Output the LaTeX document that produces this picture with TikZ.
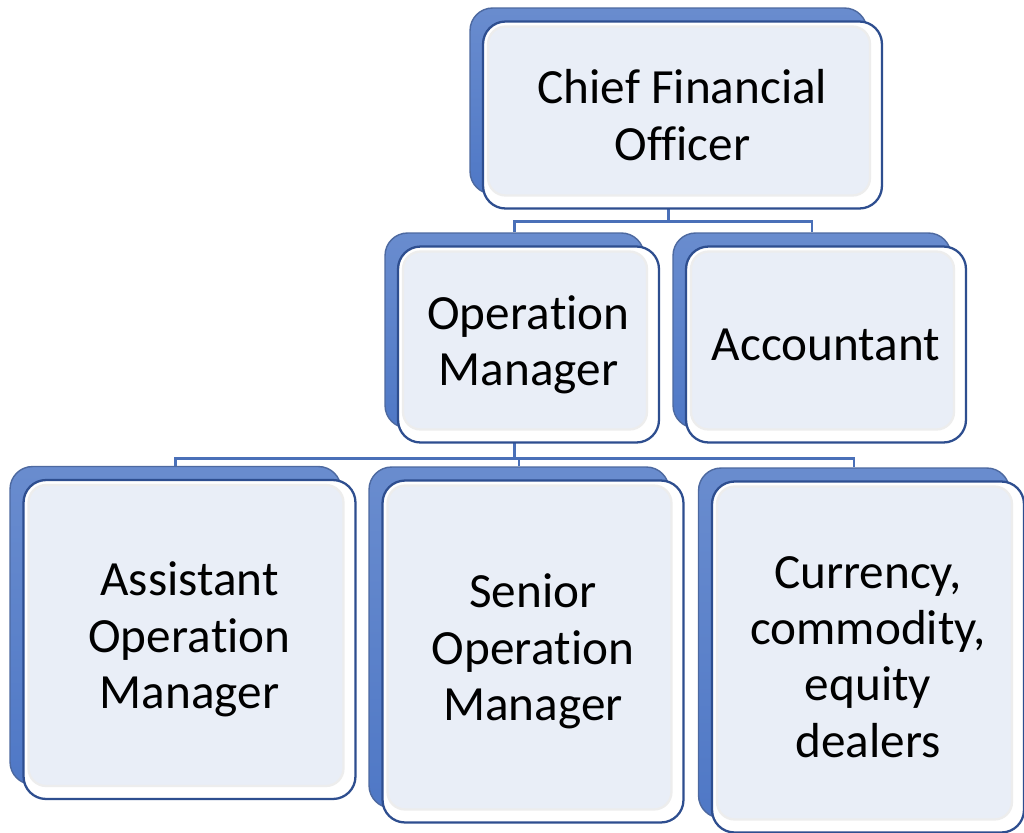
\documentclass[tikz,border=0pt]{standalone}
\usepackage{fontspec}
\setmainfont{Carlito}[Ligatures=NoCommon]
\usetikzlibrary{calc}

\definecolor{plateblue}{HTML}{4F78C6}
\definecolor{edgeblue}{HTML}{2E4E8F}
\definecolor{panelgray}{HTML}{E9EEF7}
\definecolor{linkblue}{HTML}{4A70B8}

% Carlito joins "ti" even without liga, so keep the letters apart
\newcommand{\opword}{Opera\kern0pt tion}

\tikzset{
  plate/.style={draw=edgeblue!85, line width=0.8pt, top color=plateblue!85!white,
    bottom color=plateblue, rounded corners=0.45cm, inner sep=0pt},
  card/.style={draw=edgeblue, line width=1.3pt, fill=white,
    rounded corners=0.45cm, inner sep=0pt, align=center,
    font=\fontsize{28}{32}\selectfont,
    path picture={
      \fill[panelgray, draw=black!7, rounded corners=0.35cm]
        ([shift={(0.1cm,-0.1cm)}]path picture bounding box.north west) rectangle
        ([shift={(-0.24cm,0.26cm)}]path picture bounding box.south east);
    }},
  link/.style={draw=linkblue, line width=1.5pt},
}

\begin{document}
\begin{tikzpicture}[x=0.02cm, y=-0.02cm]
\useasboundingbox (0,0) rectangle (1024,832);

% blue plates behind the cards
\node[plate, minimum width=7.94cm, minimum height=3.72cm] (cfo) at (668.5,101) {};
\node[plate, minimum width=5.18cm, minimum height=3.9cm] (opm) at (514.5,330.5) {};
\node[plate, minimum width=5.56cm, minimum height=3.9cm] (acc) at (812,330.5) {};
\node[plate, minimum width=6.62cm, minimum height=6.36cm] (aom) at (175.5,625.5) {};
\node[plate, minimum width=6.0cm, minimum height=6.82cm] (som) at (519,637.5) {};
\node[plate, minimum width=6.22cm, minimum height=7.0cm] (dlr) at (854,643) {};

% reporting lines
\coordinate (j1) at ($(cfo.south)+(0,27)$);
\coordinate (j2) at ($(opm.south)+(0,30)$);
\draw[link] (cfo.south) -- (j1);
\draw[link] (opm.north) |- (j1) -| (acc.north);
\draw[link] (opm.south) -- (j2);
\draw[link] (aom.north) |- (j2) -| (dlr.north);
\draw[link] (som.north) -- (som.north |- j2);

% cards with the titles
\node[card, minimum width=7.98cm, minimum height=3.74cm] (cfo-card)
  at ([shift={(14,14)}]cfo.center) {Chief Financial\\Officer};
\node[card, minimum width=5.22cm, minimum height=3.92cm] (opm-card)
  at ([shift={(14,14)}]opm.center) {\opword\\Manager};
\node[card, minimum width=5.6cm, minimum height=3.92cm] (acc-card)
  at ([shift={(14,14)}]acc.center) {Accountant};
\node[card, minimum width=6.64cm, minimum height=6.38cm] (aom-card)
  at ([shift={(14,14)}]aom.center) {Assistant\\\opword\\Manager};
\node[card, minimum width=6.02cm, minimum height=6.84cm] (som-card)
  at ([shift={(14,14)}]som.center) {Senior\\\opword\\Manager};
\node[card, minimum width=6.24cm, minimum height=7.02cm] (dlr-card)
  at ([shift={(14,14)}]dlr.center) {Currency,\\commodity,\\equity\\dealers};
\end{tikzpicture}
\end{document}
